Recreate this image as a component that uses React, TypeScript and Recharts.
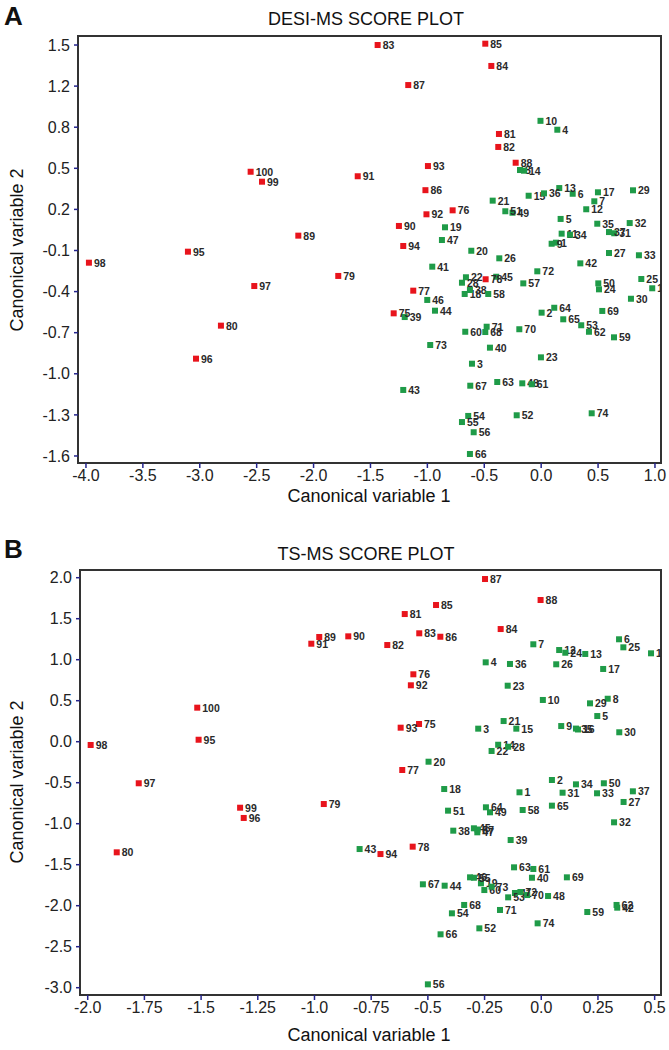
import { ScatterChart, Scatter, XAxis, YAxis, ReferenceArea } from 'recharts'

// [sample no., canonical variable 1, canonical variable 2]
type Pt = [number, number, number]

const FONT = 'Liberation Sans, Arial, sans-serif'
const RED = '#e8141c'
const GREEN = '#1f9b48'

// ---- A: DESI-MS ----
const desiRed: Pt[] = [
  [75, -1.296, -0.524], [76, -0.778, 0.253], [77, -1.124, -0.353], [78, -0.488, -0.267],
  [79, -1.783, -0.242], [80, -2.814, -0.617], [81, -0.371, 0.829], [82, -0.377, 0.731],
  [83, -1.437, 1.5], [84, -0.438, 1.342], [85, -0.491, 1.51], [86, -1.017, 0.405],
  [87, -1.168, 1.198], [88, -0.224, 0.612], [89, -2.134, 0.062], [90, -1.25, 0.135],
  [91, -1.612, 0.51], [92, -1.008, 0.223], [93, -0.995, 0.587], [94, -1.212, -0.016],
  [95, -3.104, -0.059], [96, -3.033, -0.866], [97, -2.521, -0.318], [98, -3.974, -0.142],
  [99, -2.453, 0.469], [100, -2.553, 0.544],
]

const desiGreen: Pt[] = [
  [1, 0.13, 0.009], [2, 0.004, -0.519], [3, -0.608, -0.904], [4, 0.142, 0.861],
  [5, 0.171, 0.188], [6, 0.277, 0.378], [7, 0.467, 0.321], [8, -0.186, 0.557],
  [9, 0.092, 0.001], [10, -0.006, 0.928], [11, 0.18, 0.077], [12, 0.396, 0.261],
  [13, 0.159, 0.421], [14, -0.151, 0.552], [15, -0.11, 0.363], [16, 0.976, -0.335],
  [17, 0.499, 0.389], [18, -0.672, -0.378], [19, -0.845, 0.125], [20, -0.614, -0.052],
  [21, -0.426, 0.326], [22, -0.661, -0.252], [23, -0.002, -0.856], [24, 0.508, -0.343],
  [25, 0.88, -0.265], [26, -0.368, -0.109], [27, 0.596, -0.069], [28, -0.696, -0.293],
  [29, 0.807, 0.404], [30, 0.789, -0.414], [31, 0.642, 0.08], [32, 0.778, 0.157],
  [33, 0.859, -0.086], [34, 0.253, 0.069], [35, 0.493, 0.152], [36, 0.025, 0.381],
  [37, 0.596, 0.089], [38, -0.626, -0.348], [39, -1.199, -0.552], [40, -0.45, -0.783],
  [41, -0.957, -0.172], [42, 0.344, -0.147], [43, -1.212, -1.102], [44, -0.933, -0.504],
  [45, -0.395, -0.248], [46, -1.001, -0.423], [47, -0.872, 0.029], [48, -0.166, -1.052],
  [49, -0.252, 0.235], [50, 0.502, -0.298], [51, -0.315, 0.246], [52, -0.215, -1.293],
  [53, 0.352, -0.614], [54, -0.641, -1.298], [55, -0.696, -1.344], [56, -0.593, -1.421],
  [57, -0.157, -0.298], [58, -0.465, -0.378], [59, 0.64, -0.705], [60, -0.667, -0.663],
  [61, -0.083, -1.059], [62, 0.42, -0.663], [63, -0.386, -1.042], [64, 0.115, -0.482],
  [65, 0.194, -0.569], [66, -0.626, -1.585], [67, -0.623, -1.07], [68, -0.491, -0.665],
  [69, 0.537, -0.506], [70, -0.192, -0.644], [71, -0.479, -0.625], [72, -0.034, -0.207],
  [73, -0.975, -0.763], [74, 0.444, -1.278],
]

const desiXTicks = [-4, -3.5, -3, -2.5, -2, -1.5, -1, -0.5, 0, 0.5, 1]
const desiYTicks = [1.5, 1.19, 0.88, 0.57, 0.26, -0.05, -0.36, -0.67, -0.98, -1.29, -1.6]
const desiYLabels = ['1.5', '1.2', '0.8', '0.5', '0.2', '-0.1', '-0.4', '-0.7', '-1.0', '-1.3', '-1.6']

// ---- B: TS-MS ----
const tsRed: Pt[] = [
  [75, -0.539, 0.216], [76, -0.564, 0.822], [77, -0.613, -0.345], [78, -0.567, -1.28],
  [79, -0.959, -0.76], [80, -1.872, -1.349], [81, -0.602, 1.557], [82, -0.679, 1.179],
  [83, -0.538, 1.322], [84, -0.179, 1.374], [85, -0.464, 1.667], [86, -0.445, 1.28],
  [87, -0.248, 1.984], [88, -0.003, 1.728], [89, -0.979, 1.277], [90, -0.851, 1.285],
  [91, -1.014, 1.195], [92, -0.575, 0.688], [93, -0.62, 0.171], [94, -0.709, -1.37],
  [95, -1.511, 0.024], [96, -1.312, -0.93], [97, -1.775, -0.507], [98, -1.987, -0.04],
  [99, -1.328, -0.805], [100, -1.517, 0.415],
]

const tsGreen: Pt[] = [
  [1, -0.096, -0.617], [2, 0.047, -0.467], [3, -0.278, 0.159], [4, -0.245, 0.968],
  [5, 0.247, 0.313], [6, 0.343, 1.249], [7, -0.035, 1.188], [8, 0.293, 0.524],
  [9, 0.088, 0.191], [10, 0.007, 0.509], [11, 0.484, 1.078], [12, 0.079, 1.118],
  [13, 0.194, 1.07], [14, -0.19, -0.037], [15, -0.11, 0.159], [16, 0.162, 0.149],
  [17, 0.273, 0.887], [18, -0.428, -0.577], [19, -0.266, -1.727], [20, -0.497, -0.244],
  [21, -0.166, 0.252], [22, -0.219, -0.113], [23, -0.148, 0.683], [24, 0.106, 1.085],
  [25, 0.362, 1.151], [26, 0.066, 0.944], [27, 0.363, -0.735], [28, -0.146, -0.061],
  [29, 0.215, 0.468], [30, 0.344, 0.115], [31, 0.094, -0.622], [32, 0.321, -0.983],
  [33, 0.246, -0.629], [34, 0.153, -0.52], [35, 0.153, 0.16], [36, -0.138, 0.948],
  [37, 0.404, -0.605], [38, -0.388, -1.085], [39, -0.135, -1.199], [40, -0.041, -1.659],
  [41, -0.116, -1.845], [42, 0.335, -2.024], [43, -0.801, -1.309], [44, -0.426, -1.756],
  [45, -0.297, -1.056], [46, -0.314, -1.654], [47, -0.282, -1.105], [48, 0.03, -1.882],
  [49, -0.226, -0.861], [50, 0.276, -0.507], [51, -0.411, -0.841], [52, -0.273, -2.276],
  [53, -0.146, -1.898], [54, -0.394, -2.093], [55, -0.297, -1.659], [56, -0.5, -2.959],
  [57, -0.281, -1.071], [58, -0.082, -0.833], [59, 0.203, -2.077], [60, -0.251, -1.809],
  [61, -0.035, -1.552], [62, 0.332, -1.991], [63, -0.12, -1.532], [64, -0.244, -0.8],
  [65, 0.047, -0.78], [66, -0.444, -2.349], [67, -0.522, -1.739], [68, -0.34, -1.991],
  [69, 0.113, -1.654], [70, -0.062, -1.87], [71, -0.182, -2.052], [72, -0.092, -1.833],
  [73, -0.219, -1.768], [74, -0.016, -2.215],
]

const tsXTicks = [-2, -1.75, -1.5, -1.25, -1, -0.75, -0.5, -0.25, 0, 0.25, 0.5]
const tsXLabels = ['-2.0', '-1.75', '-1.5', '-1.25', '-1.0', '-0.75', '-0.5', '-0.25', '0.0', '0.25', '0.5']
const tsYTicks = [2, 1.5, 1, 0.5, 0, -0.5, -1, -1.5, -2, -2.5, -3]
const tsYLabels = ['2.0', '1.5', '1.0', '0.5', '0.0', '-0.5', '-1.0', '-1.5', '-2.0', '-2.5', '-3.0']

const toRows = (pts: Pt[]) => pts.map(([id, x, y]) => ({ id, x, y }))

const label = (ticks: number[], labels: string[]) => (v: number) => {
  const i = ticks.findIndex((t) => Math.abs(t - v) < 1e-6)
  return i >= 0 ? labels[i] : String(v)
}

const marker = (color: string) => (p: any) => (
  <g>
    <rect x={p.cx - 3} y={p.cy - 3} width={6} height={6} fill={color} />
    <text x={p.cx + 5} y={p.cy + 4} fontSize={10.5} fontWeight="bold" fill="#2a2a2a" fontFamily={FONT}>
      {p.payload.id}
    </text>
  </g>
)

const tickStyle = { fontSize: 16, fill: '#222', fontFamily: FONT }
const tickLine = { stroke: '#24248c', strokeWidth: 1.5 }

interface PanelProps {
  top: number
  height: number
  margin: { top: number; right: number; bottom: number; left: number }
  red: Pt[]
  green: Pt[]
  xDomain: [number, number]
  yDomain: [number, number]
  xTicks: number[]
  xFmt: (v: number) => string
  yTicks: number[]
  yFmt: (v: number) => string
}

function Panel(p: PanelProps) {
  return (
    <div style={{ position: 'absolute', left: 0, top: p.top }}>
      <ScatterChart width={669} height={p.height} margin={p.margin}>
        <XAxis type="number" dataKey="x" domain={p.xDomain} allowDataOverflow ticks={p.xTicks} interval={0}
          tickFormatter={p.xFmt} axisLine={false} tickLine={tickLine} tickSize={5} tickMargin={2}
          tick={tickStyle} height={30} />
        <YAxis type="number" dataKey="y" domain={p.yDomain} allowDataOverflow ticks={p.yTicks} interval={0}
          tickFormatter={p.yFmt} axisLine={false} tickLine={tickLine} tickSize={4} tickMargin={4}
          tick={tickStyle} width={60} />
        <ReferenceArea x1={p.xDomain[0]} x2={p.xDomain[1]} y1={p.yDomain[0]} y2={p.yDomain[1]}
          fill="none" stroke="#333" strokeWidth={2} ifOverflow="visible" />
        <Scatter data={toRows(p.green)} shape={marker(GREEN)} isAnimationActive={false} />
        <Scatter data={toRows(p.red)} shape={marker(RED)} isAnimationActive={false} />
      </ScatterChart>
    </div>
  )
}

export default function App() {
  return (
    <div style={{ position: 'absolute', left: 0, top: 0, width: 669, height: 1050, background: '#fff' }}>
      <Panel top={0} height={520} margin={{ top: 36, right: 8, left: 18, bottom: 27 }}
        red={desiRed} green={desiGreen} xDomain={[-4.07, 1.053]} yDomain={[-1.653, 1.568]}
        xTicks={desiXTicks} xFmt={(v) => v.toFixed(1)} yTicks={desiYTicks} yFmt={label(desiYTicks, desiYLabels)} />
      <Panel top={520} height={530} margin={{ top: 50, right: 8, left: 20, bottom: 25 }}
        red={tsRed} green={tsGreen} xDomain={[-2.034, 0.528]} yDomain={[-3.089, 2.094]}
        xTicks={tsXTicks} xFmt={label(tsXTicks, tsXLabels)} yTicks={tsYTicks} yFmt={label(tsYTicks, tsYLabels)} />
      <svg width={669} height={1050} style={{ position: 'absolute', left: 0, top: 0, pointerEvents: 'none' }}
        fontFamily={FONT} fill="#111">
        <text x={4} y={25} fontSize={26} fontWeight="bold">A</text>
        <text x={366} y={25} fontSize={18} textAnchor="middle">DESI-MS SCORE PLOT</text>
        <text x={23} y={250} fontSize={18} textAnchor="middle" transform="rotate(-90 23 250)">Canonical variable 2</text>
        <text x={369} y={502} fontSize={18} textAnchor="middle">Canonical variable 1</text>
        <text x={4} y={558} fontSize={26} fontWeight="bold">B</text>
        <text x={366} y={560} fontSize={18} textAnchor="middle">TS-MS SCORE PLOT</text>
        <text x={23} y={782} fontSize={18} textAnchor="middle" transform="rotate(-90 23 782)">Canonical variable 2</text>
        <text x={369} y={1041} fontSize={18} textAnchor="middle">Canonical variable 1</text>
      </svg>
    </div>
  )
}
